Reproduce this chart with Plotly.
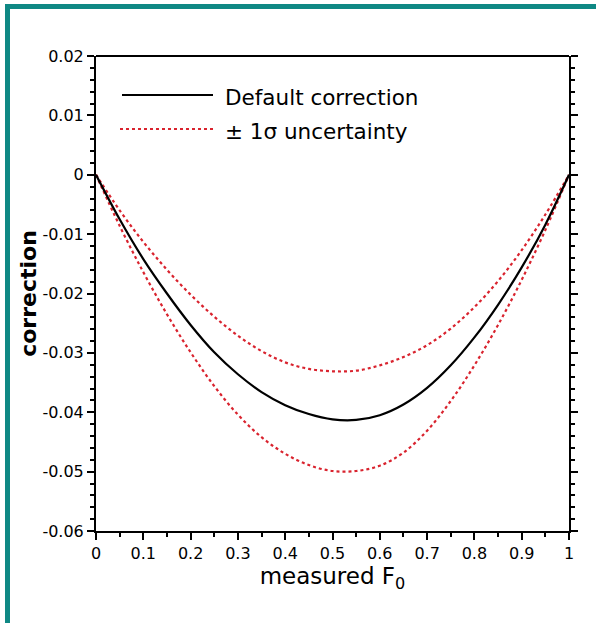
import plotly.graph_objects as go

# ---- data ----
f0 = [0.0, 0.05, 0.10, 0.15, 0.20, 0.25, 0.30, 0.35, 0.40, 0.45, 0.50,
      0.55, 0.60, 0.65, 0.70, 0.75, 0.80, 0.85, 0.90, 0.95, 1.0]
default_corr = [0.0, -0.0075, -0.0142, -0.0200, -0.0253, -0.0299, -0.0336, -0.0366,
                -0.0388, -0.0403, -0.0412, -0.0413, -0.0405, -0.0387, -0.0359,
                -0.0321, -0.0274, -0.0219, -0.0156, -0.0084, 0.0]
upper_corr = [0.0, -0.0060, -0.0113, -0.0160, -0.0202, -0.0239, -0.0271, -0.0297,
              -0.0316, -0.0327, -0.0331, -0.0330, -0.0321, -0.0307, -0.0287,
              -0.0259, -0.0223, -0.0179, -0.0127, -0.0067, 0.0]
lower_corr = [0.0, -0.0086, -0.0164, -0.0235, -0.0299, -0.0356, -0.0404, -0.0442,
              -0.0470, -0.0489, -0.0499, -0.0499, -0.0490, -0.0468, -0.0431,
              -0.0381, -0.0321, -0.0253, -0.0177, -0.0093, 0.0]
x_ticks = [0, 0.1, 0.2, 0.3, 0.4, 0.5, 0.6, 0.7, 0.8, 0.9, 1]
x_tick_labels = ["0", "0.1", "0.2", "0.3", "0.4", "0.5", "0.6", "0.7", "0.8", "0.9", "1"]
y_ticks = [0.02, 0.01, 0, -0.01, -0.02, -0.03, -0.04, -0.05, -0.06]
y_tick_labels = ["0.02", "0.01", "0", "-0.01", "-0.02", "-0.03", "-0.04", "-0.05", "-0.06"]
legend_labels = ["Default correction", "\u00b1 1\u03c3 uncertainty"]

FONT = "DejaVu Sans"
RED = "#d9232e"
TEAL = "#0f8884"

W, H = 596, 623
ML, MR, MT, MB = 96, 27, 56, 92
PW, PH = W - ML - MR, H - MT - MB

def px(xp):
    return (xp - ML) / PW

def py(yp):
    return 1 - (yp - MT) / PH

fig = go.Figure()
fig.add_trace(go.Scatter(x=f0, y=upper_corr, mode="lines",
                         line=dict(color=RED, width=2.2, dash="dot", shape="spline"), showlegend=False))
fig.add_trace(go.Scatter(x=f0, y=lower_corr, mode="lines",
                         line=dict(color=RED, width=2.2, dash="dot", shape="spline"), showlegend=False))
fig.add_trace(go.Scatter(x=f0, y=default_corr, mode="lines",
                         line=dict(color="black", width=2.2, shape="spline"), showlegend=False))

shapes = [
    # teal frame (top and left)
    dict(type="rect", xref="paper", yref="paper", x0=px(5), x1=px(10), y0=py(623), y1=py(4),
         fillcolor=TEAL, line=dict(width=0), layer="above"),
    dict(type="rect", xref="paper", yref="paper", x0=px(5), x1=px(596), y0=py(9), y1=py(4),
         fillcolor=TEAL, line=dict(width=0), layer="above"),
    # top frame line of plot box (no ticks)
    dict(type="line", xref="paper", yref="paper", x0=0, x1=1, y0=1, y1=1,
         line=dict(color="black", width=2), layer="above"),
    # legend samples
    dict(type="line", xref="paper", yref="paper", x0=px(122), x1=px(213), y0=py(95), y1=py(95),
         line=dict(color="black", width=2.2)),
    dict(type="line", xref="paper", yref="paper", x0=px(120), x1=px(213), y0=py(129), y1=py(129),
         line=dict(color=RED, width=2.2, dash="dot")),
]
annotations = [
    dict(text=legend_labels[0], xref="paper", yref="paper", x=px(223), y=py(97), xanchor="left",
         yanchor="middle", showarrow=False, font=dict(family=FONT, size=21.5, color="black")),
    dict(text=legend_labels[1], xref="paper", yref="paper", x=px(223), y=py(131), xanchor="left",
         yanchor="middle", showarrow=False, font=dict(family=FONT, size=21.5, color="black")),
]

fig.update_layout(
    width=W, height=H,
    margin=dict(l=ML, r=MR, t=MT, b=MB),
    paper_bgcolor="white", plot_bgcolor="white",
    font=dict(family=FONT, color="black"),
    shapes=shapes, annotations=annotations,
)
fig.update_xaxes(
    range=[0, 1], tickvals=x_ticks, ticktext=x_tick_labels,
    showgrid=False, zeroline=False,
    showline=True, linecolor="black", linewidth=2, mirror=False,
    ticks="outside", ticklen=7, tickwidth=2, tickcolor="black",
    minor=dict(dtick=0.05, ticks="outside", ticklen=4, tickwidth=2, tickcolor="black", showgrid=False),
    tickfont=dict(family=FONT, size=16, color="black"),
    title=dict(text="measured F<sub>0</sub>", font=dict(family=FONT, size=23, color="black"), standoff=5),
)
fig.update_yaxes(
    range=[-0.06, 0.02], tickvals=y_ticks, ticktext=y_tick_labels,
    showgrid=False, zeroline=False,
    showline=True, linecolor="black", linewidth=2, mirror="ticks",
    ticks="outside", ticklen=7, tickwidth=2, tickcolor="black",
    minor=dict(dtick=0.002, ticks="outside", ticklen=4, tickwidth=2, tickcolor="black", showgrid=False),
    tickfont=dict(family=FONT, size=16, color="black"),
    title=dict(text="<b>correction</b>", font=dict(family=FONT, size=22, color="black"), standoff=0),
)

fig.write_html("out.html")
